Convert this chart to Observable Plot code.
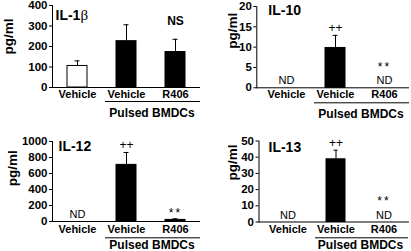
<!DOCTYPE html>
<html><head><meta charset="utf-8">
<script src="https://cdn.jsdelivr.net/npm/d3@7"></script>
<script src="https://cdn.jsdelivr.net/npm/@observablehq/plot@0.6"></script>
<style>
html,body{margin:0;padding:0;background:#fff;}
#root{position:relative;width:411px;height:251px;overflow:hidden;}
#root svg{position:absolute;overflow:visible;}
</style></head><body><div id="root"></div>
<script>
// ---- data ----
const categories = ["Vehicle", "Pulsed Vehicle", "R406"];
const categoryLabels = ["Vehicle", "Vehicle", "R406"];
const groupLabel = "Pulsed BMDCs";
const yLabel = "pg/ml";

const il1bTitle = "IL-1β";
const il1bValues = [105, 226, 173];
const il1bErrors = [25, 80, 62];
const il1bND = [false, false, false];
const il1bMarks = ["", "", "NS"];
const il1bTicks = [0, 100, 200, 300, 400];

const il10Title = "IL-10";
const il10Values = [0, 9.8, 0];
const il10Errors = [0, 3.1, 0];
const il10ND = [true, false, true];
const il10Marks = ["", "++", "**"];
const il10Ticks = [0, 5, 10, 15, 20];

const il12Title = "IL-12";
const il12Values = [0, 708, 20];
const il12Errors = [0, 155, 14];
const il12ND = [true, false, false];
const il12Marks = ["", "++", "**"];
const il12Ticks = [0, 200, 400, 600, 800, 1000];

const il13Title = "IL-13";
const il13Values = [0, 38.7, 0];
const il13Errors = [0, 5.6, 0];
const il13ND = [true, false, true];
const il13Marks = ["", "++", "**"];
const il13Ticks = [0, 10, 20, 30, 40, 50];

const FONT = "Liberation Sans, Arial, Helvetica, sans-serif";

const panels = [
  {title: il1bTitle, values: il1bValues, errors: il1bErrors, nd: il1bND, marks: il1bMarks, ticks: il1bTicks,
   fills: ["white", "black", "black"], markWeight: "bold", markDy: [0, 0, -14], markSize: 12,
   left: 0, top: 0, width: 205, height: 125, mL: 52, mR: 5, mT: 5, mB: 38, xRange: null,
   titleDx: 3, titleDy: 14.5, labDx: -43.7, labDy: 8, xPad: 2.3, grpDy: 14, grpTextDy: 29.3},
  {title: il10Title, values: il10Values, errors: il10Errors, nd: il10ND, marks: il10Marks, ticks: il10Ticks,
   fills: ["black", "black", "black"], markWeight: "normal", markDy: [0, -3.5, -17], markSize: 12,
   left: 205, top: 0, width: 206, height: 125, mL: 51.3, mR: 2, mT: 6, mB: 37.7, xRange: [56, 204],
   titleDx: 11.5, titleDy: 8, labDx: -23.8, labDy: 1.5, xPad: 2.5, grpDy: 15, grpTextDy: 30.5},
  {title: il12Title, values: il12Values, errors: il12Errors, nd: il12ND, marks: il12Marks, ticks: il12Ticks,
   fills: ["black", "black", "black"], markWeight: "normal", markDy: [0, -3.5, -1.5], markSize: 12,
   left: 0, top: 125, width: 205, height: 126, mL: 52, mR: 5, mT: 16, mB: 30, xRange: null,
   titleDx: 6, titleDy: 9.5, labDx: -39.5, labDy: 4.7, xPad: 3.8, grpDy: 16.3, grpTextDy: 27.8},
  {title: il13Title, values: il13Values, errors: il13Errors, nd: il13ND, marks: il13Marks, ticks: il13Ticks,
   fills: ["black", "black", "black"], markWeight: "normal", markDy: [0, -3, -17], markSize: 12,
   left: 205, top: 125, width: 206, height: 126, mL: 53.5, mR: 2, mT: 15.5, mB: 29.5, xRange: [57.5, 204],
   titleDx: 9.5, titleDy: 11, labDx: -26, labDy: -1, xPad: 3.5, grpDy: 15.8, grpTextDy: 27.3}
];

function makePanel(cfg) {
  const rows = categories.map((c, i) => ({
    category: c, value: cfg.values[i], error: cfg.errors[i], nd: cfg.nd[i],
    mark: cfg.marks[i], fill: cfg.fills[i], i
  }));
  const shown = rows.filter(d => !d.nd);
  const withErr = shown.filter(d => d.error > 0);
  const group = [{a: categories[1], b: categories[2], y: 0, label: groupLabel}];
  const xScale = {type: "band", domain: categories, paddingInner: 0.594, paddingOuter: 0.297, align: 0.5};
  if (cfg.xRange) xScale.range = cfg.xRange;
  return Plot.plot({
    width: cfg.width, height: cfg.height,
    marginLeft: cfg.mL, marginRight: cfg.mR, marginTop: cfg.mT, marginBottom: cfg.mB,
    style: {fontFamily: FONT, fontWeight: "bold", fontSize: "11px", background: "transparent", color: "black"},
    x: xScale,
    y: {domain: [0, d3.max(cfg.ticks)], nice: false},
    color: {type: "identity"},
    marks: [
      Plot.barY(shown, {x: "category", y: "value", fill: "fill", stroke: "black", strokeWidth: 1}),
      Plot.ruleX(withErr, {x: "category", y1: "value", y2: d => d.value + d.error, stroke: "black", strokeWidth: 1}),
      Plot.tickY(withErr, {x: "category", y: d => d.value + d.error, stroke: "black", strokeWidth: 1, insetLeft: 7.5, insetRight: 7.5}),
      Plot.text(rows.filter(d => d.nd), {x: "category", y: () => 0, text: () => "ND", fontWeight: "normal", fontSize: 11, lineAnchor: "bottom", dy: -3.5, fill: "black"}),
      ...rows.filter(d => d.mark).map(d => Plot.text([d], {
        x: "category", y: r => r.nd ? 0 : r.value + r.error, text: "mark",
        fontWeight: cfg.markWeight, fontSize: cfg.markSize, lineAnchor: "bottom", dy: cfg.markDy[d.i], fill: "black"
      })),
      Plot.ruleY([0], {stroke: "black", strokeWidth: 1}),
      Plot.frame({anchor: "left", stroke: "black", strokeWidth: 1}),
      Plot.axisY({ticks: cfg.ticks, tickFormat: d3.format("d"), tickSize: 3, tickPadding: 2, label: null, fontSize: 11.5, stroke: "black", strokeOpacity: 1}),
      Plot.axisX({tickSize: 0, tickPadding: cfg.xPad, label: null, fontSize: 11,
        tickFormat: c => categoryLabels[categories.indexOf(c)]}),
      Plot.ruleY(group, {y: "y", x1: "a", x2: "b", dy: cfg.grpDy, insetLeft: -11, insetRight: -15, stroke: "black", strokeWidth: 1}),
      Plot.text(group, {x: "b", y: "y", text: "label", dx: -23.5, dy: cfg.grpTextDy, lineAnchor: "bottom", fontSize: 12, fontWeight: "bold", fill: "black"}),
      Plot.text([cfg.title], {frameAnchor: "top-left", text: d => d, textAnchor: "start", lineAnchor: "bottom",
        dx: cfg.titleDx, dy: cfg.titleDy, fontSize: 14, fontWeight: "bold", fill: "black"}),
      Plot.text([yLabel], {frameAnchor: "left", text: d => d, rotate: -90, dx: cfg.labDx, dy: cfg.labDy,
        fontSize: 13.5, fontWeight: "bold", fill: "black"})
    ]
  });
}

const root = document.getElementById("root");
panels.forEach(cfg => {
  const svg = makePanel(cfg);
  svg.style.left = cfg.left + "px";
  svg.style.top = cfg.top + "px";
  root.appendChild(svg);
});

// beta glyph in regular serif weight, letter spacing of asterisks
root.querySelectorAll("text").forEach(t => {
  const s = t.textContent;
  if (s.endsWith("β") && t.children.length === 0) {
    const head = s.slice(0, -1);
    t.textContent = head;
    const ts = document.createElementNS("http://www.w3.org/2000/svg", "tspan");
    ts.setAttribute("font-weight", "normal");
    ts.setAttribute("font-family", "Liberation Serif, serif");
    ts.setAttribute("font-size", "15");
    ts.textContent = "β";
    t.appendChild(ts);
  }
  if (s === "**") t.setAttribute("letter-spacing", "2");
});
</script>
</body></html>
